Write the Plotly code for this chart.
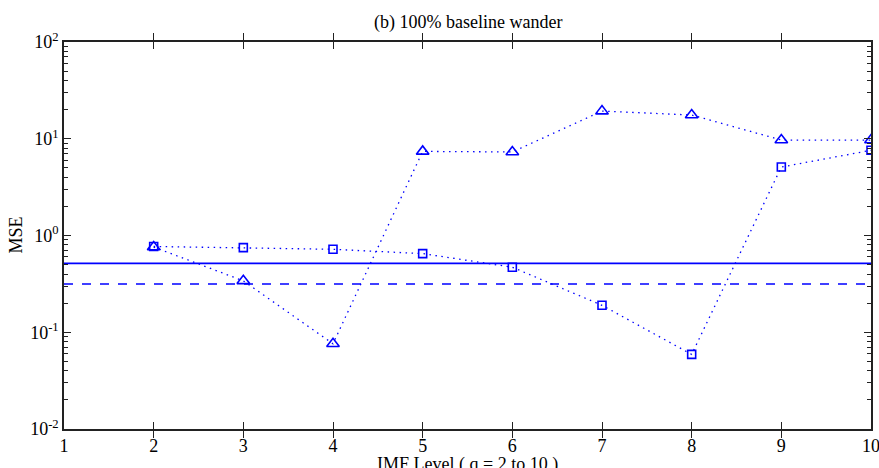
import plotly.graph_objects as go

imf_level = [2, 3, 4, 5, 6, 7, 8, 9, 10]
mse_triangle = [0.76, 0.34, 0.076, 7.4, 7.3, 19.3, 17.6, 9.7, 9.7]
mse_square = [0.77, 0.75, 0.72, 0.65, 0.47, 0.19, 0.059, 5.1, 7.6]
ref_solid = 0.515
ref_dashed = 0.315
x_span = [1, 10]
x_ticks = [1, 2, 3, 4, 5, 6, 7, 8, 9, 10]
y_major = [0.01, 0.1, 1, 10, 100]
y_major_text = ["10<sup>-2</sup>", "10<sup>-1</sup>", "10<sup>0</sup>", "10<sup>1</sup>", "10<sup>2</sup>"]
y_minor = [m * 10 ** e for e in range(-2, 2) for m in range(2, 10)]

title_text = "(b) 100% baseline wander"
xlabel_text = "IMF Level ( q = 2 to 10 )"
ylabel_text = "MSE"

blue = "#0000ff"
axis_col = "#222222"
fam = "Liberation Serif, Times New Roman, serif"
font = dict(family=fam, size=18, color="black")

fig = go.Figure()
fig.add_trace(go.Scatter(x=imf_level, y=mse_triangle, mode="lines+markers",
                         line=dict(color=blue, width=1.3, dash="1.5px,4.5px"),
                         marker=dict(symbol="triangle-up-open", size=11, color=blue, line=dict(width=1.6)),
                         showlegend=False))
fig.add_trace(go.Scatter(x=imf_level, y=mse_square, mode="lines+markers",
                         line=dict(color=blue, width=1.3, dash="1.5px,4.5px"),
                         marker=dict(symbol="square-open", size=8, color=blue, line=dict(width=1.6)),
                         showlegend=False))
fig.add_trace(go.Scatter(x=x_span, y=[ref_solid, ref_solid], mode="lines",
                         line=dict(color=blue, width=1.6), showlegend=False))
fig.add_trace(go.Scatter(x=x_span, y=[ref_dashed, ref_dashed], mode="lines",
                         line=dict(color=blue, width=1.6, dash="dash"), showlegend=False))
# carrier for the minor-tick axis (not visible)
fig.add_trace(go.Scatter(x=[x_span[0]], y=[ref_solid], yaxis="y2", mode="markers",
                         marker=dict(opacity=0), showlegend=False, hoverinfo="skip"))

fig.update_layout(
    width=879, height=468,
    margin=dict(l=64, r=8, t=42, b=39, autoexpand=False),
    paper_bgcolor="white", plot_bgcolor="white",
    font=font,
    xaxis=dict(range=[1, 10], tickvals=x_ticks, ticks="inside", ticklen=7, tickcolor=axis_col,
               showline=True, linecolor=axis_col, linewidth=1.5, mirror="allticks",
               showgrid=False, zeroline=False, automargin=False, tickfont=font,
               ticklabeloverflow="allow"),
    yaxis=dict(type="log", range=[-2, 2], tickvals=y_major, ticktext=y_major_text,
               ticks="inside", ticklen=7, tickcolor=axis_col, showline=True, linecolor=axis_col,
               linewidth=1.5, mirror="allticks", showgrid=False, zeroline=False,
               automargin=False, tickfont=font, ticklabeloverflow="allow"),
    yaxis2=dict(type="log", range=[-2, 2], overlaying="y", tickvals=y_minor, showticklabels=False,
                ticks="inside", ticklen=4, tickcolor=axis_col, showline=True, linecolor=axis_col,
                linewidth=1.5, mirror="allticks", showgrid=False, zeroline=False, automargin=False),
    annotations=[
        dict(text=title_text, x=0.5, y=1, xref="paper", yref="paper", xanchor="center",
             yanchor="middle", yshift=20, showarrow=False, font=font),
        dict(text=xlabel_text, x=0.5, y=0, xref="paper", yref="paper", xanchor="center",
             yanchor="top", yshift=-23, showarrow=False, font=font),
        dict(text=ylabel_text, x=0, y=0.5, xref="paper", yref="paper", xanchor="center",
             yanchor="middle", xshift=-49, textangle=-90, showarrow=False, font=font),
    ],
)
fig.write_html("out.html", config={"displayModeBar": False},
               post_script="document.body.style.margin='0';document.body.style.overflow='hidden';")
